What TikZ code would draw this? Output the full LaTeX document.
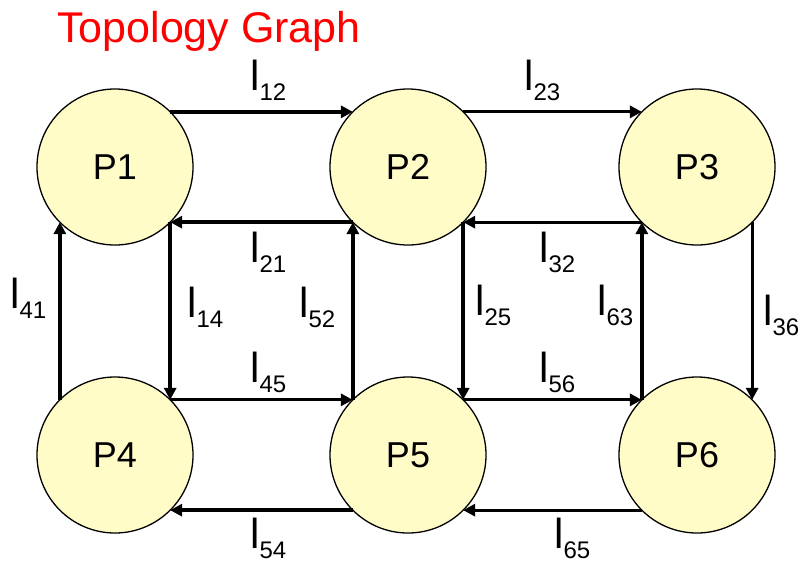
\documentclass[tikz,border=0pt]{standalone}
\usepackage{fontspec}
\setmainfont{Liberation Sans}
\usetikzlibrary{arrows.meta}
\newcommand{\lnk}[1]{l\raisebox{-10pt}{\fontsize{24}{26}\selectfont #1}}

\begin{document}
\begin{tikzpicture}[x=1pt,y=-1pt,
                    >={Triangle[length=12pt,width=12pt]},
                    proc/.style={circle, draw, line width=1.3pt, fill=yellow!22,
                      minimum size=156pt, inner sep=0pt, outer sep=0pt,
                      font=\fontsize{36}{40}\selectfont},
                    lbl/.style={anchor=base west, inner sep=0pt,
                      font=\fontsize{42}{44}\selectfont},
                    fat/.style={->, line width=4pt},
                    thin/.style={->, line width=3pt}]

                \useasboundingbox (0,0) rectangle (802,565);

                \node[anchor=base west, inner sep=0pt, text=red,
                  font=\fontsize{43}{46}\selectfont] (title) at (57,42) {Topology Graph};

                \draw(115,167) node[proc] (P1) {P1};
                \draw(408,167) node[proc] (P2) {P2};
                \draw(697,167) node[proc] (P3) {P3};
                \draw(115,455) node[proc] (P4) {P4};
                \draw(408,455) node[proc] (P5) {P5};
                \draw(697,455) node[proc] (P6) {P6};

                % top row
                \draw[fat] (P1.45) to (P2.135);
                \draw[thin] (P2.45) to (P3.135);
                \draw[fat] (P2.-135) to (P1.-45);
                \draw[thin] (P3.-135) to (P2.-45);

                % bottom row
                \draw[thin] (P4.45) to (P5.135);
                \draw[thin] (P5.45) to (P6.135);
                \draw[fat] (P5.-135) to (P4.-45);
                \draw[thin] (P6.-135) to (P5.-45);

                % columns
                \draw[fat] (P4.135) to (P1.-135);
                \draw[fat] (P1.-45) to (P4.45);
                \draw[fat] (P5.135) to (P2.-135);
                \draw[fat] (P2.-45) to (P5.45);
                \draw[fat] (P6.135) to (P3.-135);
                \draw[thin] (P3.-45) to (P6.45);

                \node[lbl] (l12) at (250,90) {\lnk{12}};
                \node[lbl] (l23) at (524,90) {\lnk{23}};
                \node[lbl] (l21) at (250,262) {\lnk{21}};
                \node[lbl] (l32) at (539,262) {\lnk{32}};
                \node[lbl] (l41) at (10,308) {\lnk{41}};
                \node[lbl] (l14) at (187,317) {\lnk{14}};
                \node[lbl] (l52) at (299,317) {\lnk{52}};
                \node[lbl] (l25) at (475,315) {\lnk{25}};
                \node[lbl] (l63) at (597,315) {\lnk{63}};
                \node[lbl] (l36) at (763,325) {\lnk{36}};
                \node[lbl] (l45) at (250,382) {\lnk{45}};
                \node[lbl] (l56) at (539,382) {\lnk{56}};
                \node[lbl] (l54) at (250,548) {\lnk{54}};
                \node[lbl] (l65) at (554,548) {\lnk{65}};

            \end{tikzpicture}
\end{document}
